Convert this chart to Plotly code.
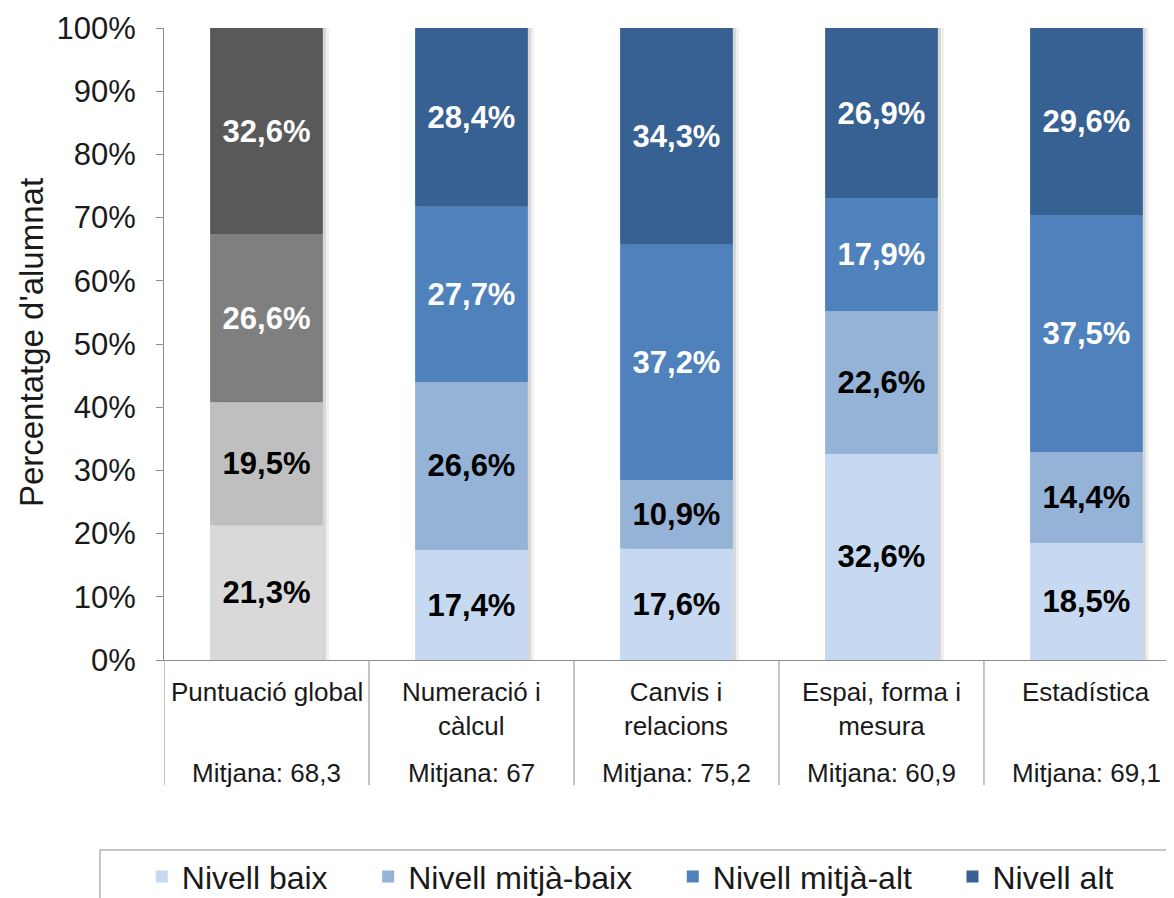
import numpy as np
import plotly.graph_objects as go

categories = ["Puntuació global", "Numeració i<br>càlcul", "Canvis i<br>relacions",
              "Espai, forma i<br>mesura", "Estadística"]
means = ["Mitjana: 68,3", "Mitjana: 67", "Mitjana: 75,2", "Mitjana: 60,9", "Mitjana: 69,1"]

series_names = ["Nivell baix", "Nivell mitjà-baix", "Nivell mitjà-alt", "Nivell alt"]
nivell_baix = [21.3, 17.4, 17.6, 32.6, 18.5]
nivell_mitja_baix = [19.5, 26.6, 10.9, 22.6, 14.4]
nivell_mitja_alt = [26.6, 27.7, 37.2, 17.9, 37.5]
nivell_alt = [32.6, 28.4, 34.3, 26.9, 29.6]
y_ticks = [0, 10, 20, 30, 40, 50, 60, 70, 80, 90, 100]
y_title = "Percentatge d'alumnat"

series_values = [nivell_baix, nivell_mitja_baix, nivell_mitja_alt, nivell_alt]
blue_colors = ["#c6d9f0", "#95b3d7", "#4f81bd", "#376093"]
gray_colors = ["#d9d9d9", "#bfbfbf", "#7f7f7f", "#595959"]
text_colors = ["black", "black", "white", "white"]

FONT = "Arial, Liberation Sans, sans-serif"
PAD = "\u00a0" * 4
BAR_W = 0.55

def fmt(v):
    return f"{v:.1f}".replace(".", ",") + "%"

vals_arr = np.array(series_values, dtype=float)
bases = np.vstack([np.zeros(vals_arr.shape[1]), np.cumsum(vals_arr, axis=0)[:-1]])
totals = np.minimum(vals_arr.sum(axis=0), 100)

fig = go.Figure()
xkeys = list(range(len(categories)))

# soft drop shadow behind each bar
for shift, alpha in [(0.03, 0.06), (0.015, 0.10)]:
    fig.add_trace(go.Bar(
        x=xkeys, y=totals, base=0, width=BAR_W, offset=-BAR_W / 2 + shift,
        marker=dict(color=f"rgba(0,0,0,{alpha})", line=dict(width=0)),
        showlegend=False, hoverinfo="skip",
    ))

for i, name in enumerate(series_names):
    vals = vals_arr[i]
    base = bases[i]
    for sl, colors, show in [(slice(0, 1), gray_colors, False), (slice(1, None), blue_colors, True)]:
        fig.add_trace(go.Bar(
            x=xkeys[sl], y=vals[sl], base=base[sl], name=name + PAD, showlegend=show,
            marker=dict(color=colors[i], line=dict(width=0)),
            text=[fmt(v) for v in vals[sl]], textposition="inside",
            insidetextanchor="middle", textangle=0,
            textfont=dict(family=FONT, size=31, color=text_colors[i], weight="bold"),
            width=BAR_W, offset=-BAR_W / 2, hoverinfo="skip", legendgroup=name,
        ))

annotations = []
shapes = []
for k, (cat, m) in enumerate(zip(categories, means)):
    annotations.append(dict(x=k, y=-0.024, xref="x", yref="paper", text=cat,
                            showarrow=False, yanchor="top", xanchor="center",
                            font=dict(family=FONT, size=26, color="#1a1a1a"),
                            align="center"))
    annotations.append(dict(x=k, y=-0.152, xref="x", yref="paper", text=m,
                            showarrow=False, yanchor="top", xanchor="center",
                            font=dict(family=FONT, size=26, color="#1a1a1a")))
annotations.append(dict(x=-0.1317, y=0.503, xref="paper", yref="paper", text=y_title,
                        textangle=-90, showarrow=False, xanchor="center", yanchor="middle",
                        font=dict(family=FONT, size=33, color="#1a1a1a")))
for k in range(len(categories) + 1):
    shapes.append(dict(type="line", xref="x", yref="paper", x0=k - 0.5, x1=k - 0.5,
                       y0=0, y1=-0.198, line=dict(color="#8c8c8c", width=1)))
# legend box
shapes.append(dict(type="rect", xref="paper", yref="paper", x0=-0.0634, x1=1.05,
                   y0=-0.3006, y1=-0.45, line=dict(color="#8c8c8c", width=1),
                   fillcolor="rgba(0,0,0,0)"))

# the page body has an 8px margin: the figure is sized/placed to compensate
fig.update_layout(
    barmode="overlay",
    width=1166, height=890,
    margin=dict(l=156, r=0, t=20, b=238, autoexpand=False),
    paper_bgcolor="white", plot_bgcolor="white",
    font=dict(family=FONT, color="#1a1a1a"),
    xaxis=dict(range=[-0.5, 4.427], showticklabels=False, ticks="",
               showgrid=False, zeroline=False, showline=True, automargin=False,
               linecolor="#8c8c8c", linewidth=1),
    yaxis=dict(range=[0, 100], tickvals=y_ticks,
               ticktext=[f"{t}%" for t in y_ticks],
               tickfont=dict(family=FONT, size=31, color="#1a1a1a"),
               ticks="outside", ticklen=7, tickcolor="#8c8c8c",
               ticklabelstandoff=14, automargin=False,
               showgrid=False, zeroline=False, showline=True,
               linecolor="#8c8c8c", linewidth=1),
    legend=dict(orientation="h", x=-0.022, xanchor="left", y=-0.343, yanchor="middle",
                font=dict(family=FONT, size=32, color="#1a1a1a"),
                bgcolor="rgba(0,0,0,0)", traceorder="normal",
                itemclick=False, itemdoubleclick=False),
    annotations=annotations,
    shapes=shapes,
    uniformtext=dict(mode="show", minsize=10),
)

fig.write_html("out.html")
